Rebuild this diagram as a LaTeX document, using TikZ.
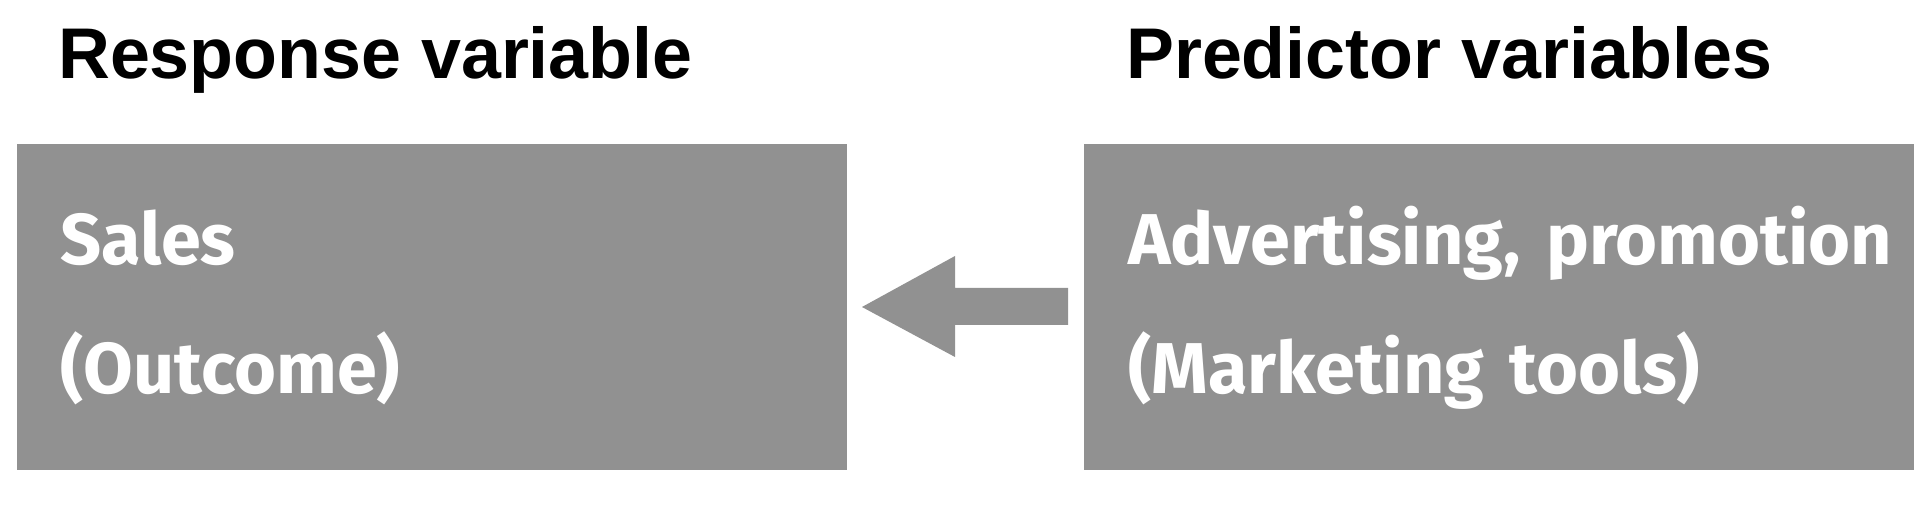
\documentclass[tikz,border=0pt]{standalone}
\usepackage{fontspec}
\setmainfont{Liberation Sans}
\newfontfamily\bodyfont[WordSpace={1.5}]{Fira Sans}
\usetikzlibrary{calc}
\definecolor{boxgray}{RGB}{145,145,145}
\tikzset{
  graybox/.style={fill=boxgray, draw=none},
  titletext/.style={anchor=base west, inner sep=0pt, font=\fontsize{71.8}{80}\selectfont\bfseries, text=black},
  bodytext/.style={anchor=base west, inner sep=0pt, font=\bodyfont\fontsize{72}{80}\selectfont\bfseries, text=white},
  blockarrow/.style={fill=boxgray, draw=none}
}
\begin{document}
\begin{tikzpicture}[x=1pt,y=-1pt]
\useasboundingbox (0,0) rectangle (1914,510);
\fill[white] (0,0) rectangle (1914,510);
% titles
\node[titletext] (t1) at (58,79) {Response variable};
\node[titletext] (t2) at (1126,79) {Predictor variables};
% boxes
\path[graybox] (17,144) rectangle (847,470);
\coordinate (respE) at (847,307);
\path[graybox] (1084,144) rectangle (1914,470);
\coordinate (predW) at (1084,307);
% body text
\node[bodytext] (s1) at (60,265) {Sales};
\node[bodytext] (s2) at (60,394) {(Outcome)};
\node[bodytext] (p1) at (1128,265) {Advertising, promotion};
\node[bodytext] (p2) at (1128,394) {(Marketing tools)};
% block arrow from predictors to response
\path[blockarrow] ($(respE)+(15,0)$) -- ++(93,-51) -- ++(0,32) -- ++(113,0) -- ++(0,37) -- ++(-113,0) -- ++(0,32) -- cycle;
\end{tikzpicture}
\end{document}
